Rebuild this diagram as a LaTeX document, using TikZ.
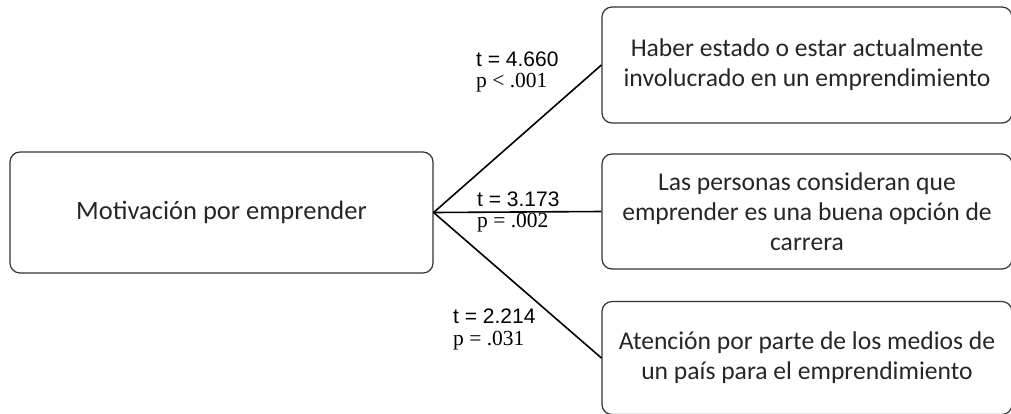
\documentclass[tikz,border=0pt]{standalone}
\usepackage{fontspec}
\newfontfamily\boxfont{Carlito}
\newfontfamily\tfont{Liberation Sans}
\newfontfamily\pfont{Liberation Serif}
\begin{document}
\begin{tikzpicture}[x=1pt, y=-1pt,
    box/.style={draw=black!80, line width=1.2pt, rounded corners=10pt, inner sep=0pt,
      align=center, font=\boxfont\fontsize{25.6}{30}\selectfont, text=black!85},
    stat/.style={anchor=base west, inner sep=0pt},
    tstat/.style={stat, font=\tfont\fontsize{21}{24}\selectfont},
    pstat/.style={stat, font=\pfont\fontsize{21.5}{24}\selectfont},
    link/.style={line width=1.6pt}]
    \useasboundingbox (0,0) rectangle (1011,413);
    \clip (0,0) rectangle (1011,413);
    % motivation box and the three factors
    \node[box, minimum width=423pt, minimum height=121pt, font=\boxfont\fontsize{26.5}{30}\selectfont]
      (mot) at (221.5,212.5) {Motivación por emprender};
    \node[box, minimum width=410pt, minimum height=116pt] (f1) at (807,65)
      {Haber estado o estar actualmente\\involucrado en un emprendimiento};
    \node[box, minimum width=410pt, minimum height=115pt] (f2) at (807,211.5)
      {Las personas consideran que\\emprender es una buena opción de\\carrera};
    \node[box, minimum width=410pt, minimum height=113pt] (f3) at (807,358)
      {Atención por parte de los medios de\\un país para el emprendimiento};
    \draw[link] (mot.east) -- (f1.west);
    \draw[link] (mot.east) -- (f2.west);
    \draw[link] (mot.east) -- (f3.west);
    % test statistics
    \node[tstat] (t1) at (476,66) {t = 4.660};
    \node[pstat] (p1) at (476,87) {p < .001};
    \node[tstat] (t2) at (477,206) {t = 3.173};
    \node[pstat] (p2) at (477,227) {p = .002};
    \node[tstat] (t3) at (453,323) {t = 2.214};
    \node[pstat] (p3) at (453,345) {p = .031};
\end{tikzpicture}
\end{document}
